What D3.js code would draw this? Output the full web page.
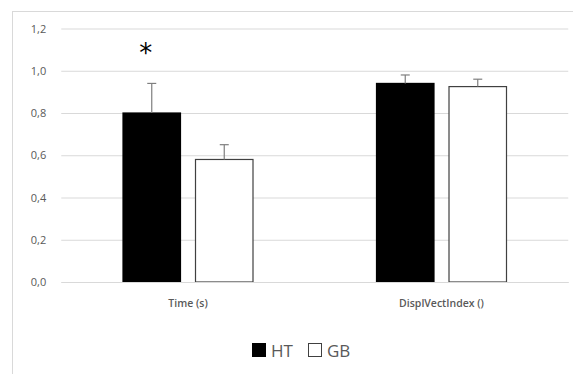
<!DOCTYPE html>
<html><head><meta charset="utf-8">
<script src="https://cdn.jsdelivr.net/npm/d3@7"></script>
<style>body{margin:0;background:#fff}svg{display:block}</style>
</head><body>
<svg id="c" width="573" height="374"></svg>
<script>
const categories = ["Time (s)", "DisplVectIndex ()"];
const seriesNames = ["HT", "GB"];
const htValues = [0.80, 0.94];
const htErrors = [0.14, 0.04];
const gbValues = [0.58, 0.925];
const gbErrors = [0.07, 0.035];
const yTicks = [0, 0.2, 0.4, 0.6, 0.8, 1.0, 1.2];
const significance = ["*", ""];

const svg = d3.select("#c");
const fillC = {HT: "#000", GB: "#fff"};

svg.append("rect").attr("x", 12.5).attr("y", 11.5).attr("width", 600).attr("height", 400)
  .attr("fill", "#fff").attr("stroke", "#d9d9d9");

const x = d3.scaleBand().domain(categories).range([61.25, 568.25]);
const y = d3.scaleLinear().domain([0, 1.2]).range([282, 28.5]);
const xs = d3.scaleBand().domain(seriesNames).range([-65, 65]).paddingInner(0.207);

const fmt = v => d3.format(".1f")(v).replace(".", ",");
const grid = svg.append("g").attr("transform", "translate(61.25,0)")
  .call(d3.axisLeft(y).tickValues(yTicks).tickSize(-507).tickPadding(15).tickFormat(fmt));
grid.select(".domain").remove();
grid.selectAll(".tick line").attr("stroke", "#d9d9d9");
grid.selectAll(".tick text").attr("fill", "#595959").attr("font-family", "Open Sans, sans-serif").attr("font-size", 11);

const data = [];
categories.forEach((c, i) => {
  data.push({c, s: "HT", v: htValues[i], e: htErrors[i]});
  data.push({c, s: "GB", v: gbValues[i], e: gbErrors[i]});
});

const g = svg.append("g");
const bx = d => x(d.c) + x.bandwidth() / 2 + xs(d.s);
g.selectAll("rect.bar").data(data).join("rect").attr("class", "bar")
  .attr("x", bx).attr("width", xs.bandwidth())
  .attr("y", d => y(d.v)).attr("height", d => y(0) - y(d.v))
  .attr("fill", d => fillC[d.s]).attr("stroke", d => d.s === "GB" ? "#404040" : "#000").attr("stroke-width", 1.2);

const eg = g.selectAll("g.err").data(data).join("g").attr("class", "err")
  .attr("stroke", "#7f7f7f").attr("stroke-width", 1.2);
eg.append("line").attr("x1", d => bx(d) + xs.bandwidth() / 2).attr("x2", d => bx(d) + xs.bandwidth() / 2)
  .attr("y1", d => y(d.v)).attr("y2", d => y(d.v + d.e));
eg.append("line").attr("x1", d => bx(d) + xs.bandwidth() / 2 - 4.5).attr("x2", d => bx(d) + xs.bandwidth() / 2 + 4.5)
  .attr("y1", d => y(d.v + d.e)).attr("y2", d => y(d.v + d.e));

const xa = svg.append("g").attr("transform", "translate(0,282)")
  .call(d3.axisBottom(x).tickSize(0).tickPadding(18));
xa.select(".domain").attr("stroke", "#d9d9d9");
xa.selectAll(".tick text").attr("fill", "#595959").attr("font-family", "Open Sans, sans-serif")
  .attr("font-size", 10.5).attr("font-weight", 600);

svg.selectAll("text.sig").data(categories).join("text").attr("class", "sig")
  .attr("x", (c) => x(c) + x.bandwidth() / 2 + xs("HT") + xs.bandwidth() / 2 - 6)
  .attr("y", 62).attr("text-anchor", "middle").attr("font-family", "DejaVu Sans, sans-serif")
  .attr("font-size", 26).attr("fill", "#000").text((c, i) => significance[i]);

const leg = svg.append("g").attr("font-family", "Open Sans, sans-serif").attr("font-size", 17).attr("fill", "#595959");
const lx = [252, 308];
seriesNames.forEach((s, i) => {
  leg.append("rect").attr("x", lx[i] + 0.5).attr("y", 343.5).attr("width", 13).attr("height", 13)
    .attr("fill", fillC[s]).attr("stroke", s === "GB" ? "#404040" : "#000");
  leg.append("text").attr("x", lx[i] + 19).attr("y", 356.5).text(s);
});
</script>
</body></html>
